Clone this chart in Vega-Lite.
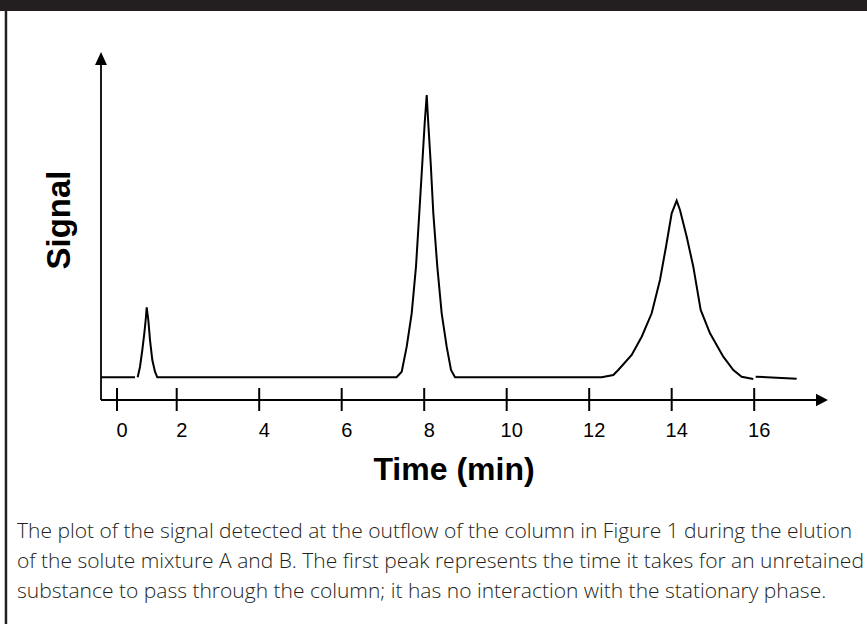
{
  "$schema": "https://vega.github.io/schema/vega-lite/v6.json",
  "width": 867,
  "height": 624,
  "padding": 0,
  "autosize": {"type": "none"},
  "background": "#ffffff",
  "config": {"view": {"stroke": null}},
  "datasets": {
    "signal": [
      {"t": -0.536, "s": 0, "seg": 1},
      {"t": 0.603, "s": 0, "seg": 1},
      {"t": 0.693, "s": 0, "seg": 2},
      {"t": 0.771, "s": 3.75, "seg": 2},
      {"t": 0.848, "s": 9.67, "seg": 2},
      {"t": 0.915, "s": 15.59, "seg": 2},
      {"t": 0.961, "s": 20.3, "seg": 2},
      {"t": 0.995, "s": 24.8, "seg": 2},
      {"t": 1.049, "s": 20.3, "seg": 2},
      {"t": 1.106, "s": 13.2, "seg": 2},
      {"t": 1.183, "s": 6.13, "seg": 2},
      {"t": 1.273, "s": 1.98, "seg": 2},
      {"t": 1.35, "s": 0, "seg": 2},
      {"t": 7.33, "s": 0, "seg": 2},
      {"t": 7.455, "s": 1.98, "seg": 2},
      {"t": 7.576, "s": 10.84, "seg": 2},
      {"t": 7.697, "s": 22.67, "seg": 2},
      {"t": 7.801, "s": 39.18, "seg": 2},
      {"t": 7.881, "s": 58.09, "seg": 2},
      {"t": 7.954, "s": 75.8, "seg": 2},
      {"t": 8.012, "s": 89.98, "seg": 2},
      {"t": 8.061, "s": 100, "seg": 2},
      {"t": 8.099, "s": 89.98, "seg": 2},
      {"t": 8.158, "s": 75.8, "seg": 2},
      {"t": 8.221, "s": 58.09, "seg": 2},
      {"t": 8.318, "s": 39.18, "seg": 2},
      {"t": 8.424, "s": 22.67, "seg": 2},
      {"t": 8.545, "s": 10.84, "seg": 2},
      {"t": 8.65, "s": 2.59, "seg": 2},
      {"t": 8.747, "s": 0, "seg": 2},
      {"t": 12.303, "s": 0, "seg": 2},
      {"t": 12.584, "s": 0.81, "seg": 2},
      {"t": 12.705, "s": 2.59, "seg": 2},
      {"t": 13.03, "s": 7.9, "seg": 2},
      {"t": 13.273, "s": 14.38, "seg": 2},
      {"t": 13.515, "s": 22.67, "seg": 2},
      {"t": 13.716, "s": 34.47, "seg": 2},
      {"t": 13.862, "s": 46.26, "seg": 2},
      {"t": 14.0, "s": 58.09, "seg": 2},
      {"t": 14.121, "s": 62.56, "seg": 2},
      {"t": 14.201, "s": 59.26, "seg": 2},
      {"t": 14.364, "s": 49.8, "seg": 2},
      {"t": 14.524, "s": 39.18, "seg": 2},
      {"t": 14.703, "s": 23.84, "seg": 2},
      {"t": 14.929, "s": 15.59, "seg": 2},
      {"t": 15.251, "s": 7.3, "seg": 2},
      {"t": 15.494, "s": 2.59, "seg": 2},
      {"t": 15.697, "s": 0.21, "seg": 2},
      {"t": 15.978, "s": -0.6, "seg": 2},
      {"t": 16.036, "s": 0.21, "seg": 3},
      {"t": 17.03, "s": -0.5, "seg": 3}
    ],
    "ticks": [
      {"t": 0, "label": "0"},
      {"t": 2, "label": "2"},
      {"t": 4, "label": "4"},
      {"t": 6, "label": "6"},
      {"t": 8, "label": "8"},
      {"t": 10, "label": "10"},
      {"t": 12, "label": "12"},
      {"t": 14, "label": "14"},
      {"t": 16, "label": "16"}
    ]
  },
  "layer": [
    {
      "data": {"values": [{}]},
      "mark": {"type": "rect", "color": "#231f20"},
      "encoding": {
        "x": {"datum": -3.92, "type": "quantitative", "scale": {"domain": [-3.92, 0, 2, 18.735], "range": [0, 117, 176.7, 867], "nice": false, "zero": false}, "axis": null},
        "x2": {"datum": 18.735},
        "y": {"datum": 133.65, "type": "quantitative", "scale": {"domain": [-87.39, 133.65], "range": [624, 0], "zero": false, "nice": false}, "axis": null},
        "y2": {"datum": 129.76}
      }
    },
    {
      "data": {"values": [{}]},
      "mark": {"type": "rule", "color": "#231f20", "strokeWidth": 2.5},
      "encoding": {
        "x": {"datum": -3.72, "type": "quantitative"},
        "y": {"datum": 129.76, "type": "quantitative"},
        "y2": {"datum": -87.39}
      }
    },
    {
      "data": {"values": [{}]},
      "mark": {"type": "rule", "color": "#000000", "strokeWidth": 1.8},
      "encoding": {
        "x": {"datum": -0.536, "type": "quantitative"},
        "y": {"datum": -8.04, "type": "quantitative"},
        "y2": {"datum": 110.6}
      }
    },
    {
      "data": {"values": [{}]},
      "mark": {"type": "rule", "color": "#000000", "strokeWidth": 1.8},
      "encoding": {
        "x": {"datum": -0.536, "type": "quantitative"},
        "x2": {"datum": 17.498},
        "y": {"datum": -8.04, "type": "quantitative"}
      }
    },
    {
      "data": {"values": [{}]},
      "mark": {"type": "point", "shape": "M0,-1L0.92,1L-0.92,1Z", "filled": true, "size": 169, "color": "#000000", "opacity": 1},
      "encoding": {
        "x": {"datum": -0.536, "type": "quantitative"},
        "y": {"datum": 112.93, "type": "quantitative"}
      }
    },
    {
      "data": {"values": [{}]},
      "mark": {"type": "point", "shape": "M1,0L-1,-1.05L-1,1.05Z", "filled": true, "size": 144, "color": "#000000", "opacity": 1},
      "encoding": {
        "x": {"datum": 17.644, "type": "quantitative"},
        "y": {"datum": -8.04, "type": "quantitative"}
      }
    },
    {
      "data": {"name": "ticks"},
      "mark": {"type": "rule", "color": "#000000", "strokeWidth": 2},
      "encoding": {
        "x": {"field": "t", "type": "quantitative"},
        "y": {"datum": -3.79, "type": "quantitative"},
        "y2": {"datum": -11.94}
      }
    },
    {
      "data": {"name": "ticks"},
      "mark": {"type": "text", "font": "Liberation Sans", "fontSize": 20, "color": "#000000", "align": "center", "baseline": "alphabetic", "dx": 5},
      "encoding": {
        "x": {"field": "t", "type": "quantitative"},
        "y": {"datum": -21.25, "type": "quantitative"},
        "text": {"field": "label"}
      }
    },
    {
      "data": {"name": "signal"},
      "mark": {"type": "line", "color": "#000000", "strokeWidth": 2, "interpolate": "linear"},
      "encoding": {
        "x": {"field": "t", "type": "quantitative"},
        "y": {"field": "s", "type": "quantitative"},
        "detail": {"field": "seg"}
      }
    },
    {
      "data": {"values": [{}]},
      "mark": {"type": "text", "font": "Liberation Sans", "fontWeight": "bold", "fontSize": 32, "color": "#000000", "align": "center", "baseline": "alphabetic"},
      "encoding": {
        "x": {"datum": 8.722, "type": "quantitative"},
        "y": {"datum": -36.38, "type": "quantitative"},
        "text": {"value": "Time (min)"}
      }
    },
    {
      "data": {"values": [{}]},
      "mark": {"type": "text", "font": "Liberation Sans", "fontWeight": "bold", "fontSize": 33, "color": "#000000", "align": "center", "baseline": "alphabetic", "angle": 270},
      "encoding": {
        "x": {"datum": -1.558, "type": "quantitative"},
        "y": {"datum": 55.72, "type": "quantitative"},
        "text": {"value": "Signal"}
      }
    },
    {
      "data": {"values": [{}]},
      "mark": {"type": "text", "font": "Open Sans", "fontWeight": 300, "fontSize": 21, "color": "#231f20", "align": "left", "baseline": "alphabetic", "lineHeight": 30},
      "encoding": {
        "x": {"datum": -3.35, "type": "quantitative"},
        "y": {"datum": -56.93, "type": "quantitative"},
        "text": {"value": [
          "The plot of the signal detected at the outflow of the column in Figure 1 during the elution",
          "of the solute mixture A and B. The first peak represents the time it takes for an unretained",
          "substance to pass through the column; it has no interaction with the stationary phase."
        ]}
      }
    }
  ]
}
